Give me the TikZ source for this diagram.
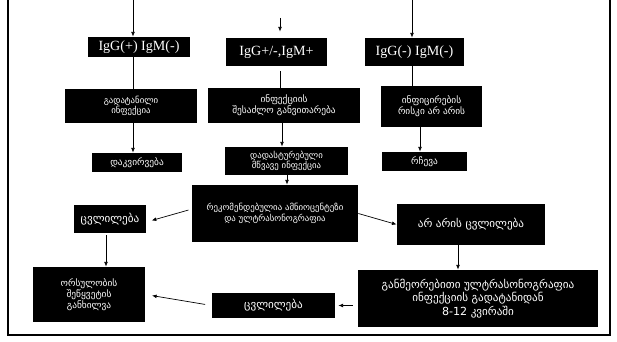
\documentclass[tikz,border=0pt]{standalone}
\usepackage{fontspec}
\setmainfont{Liberation Serif}
\newfontfamily\geo{DejaVu Sans}
\usetikzlibrary{arrows.meta}
\tikzset{
  blk/.style={fill=black, text=white, align=center, inner sep=0pt},
  igbox/.style={blk, font=\fontsize{12}{14}\selectfont},
  geos/.style={blk, font=\geo\fontsize{7.5}{9}\selectfont},
  geom/.style={blk, font=\geo\fontsize{8}{9.5}\selectfont},
  geob/.style={blk, font=\geo\fontsize{9.5}{11.5}\selectfont},
  arr/.style={-{Latex[length=4pt,width=3.2pt]}},
}
\begin{document}
\begin{tikzpicture}[x=0.03cm, y=-0.03cm, line width=0.6pt]
  \useasboundingbox (0,0) rectangle (617,342);
  \draw[line width=1.2pt] (8,0) -- (8,335) -- (610,335) -- (610,0);

  \coordinate (topA) at (133,0);
  \coordinate (topB) at (280,18);
  \coordinate (topC) at (412,0);

  \node[igbox, minimum width=3.06cm, minimum height=0.6cm] (igA) at (139,47) {IgG(+) IgM(-)};
  \node[igbox, minimum width=3.03cm, minimum height=0.84cm] (igB) at (276.5,52) {IgG+/-,IgM+};
  \node[igbox, minimum width=2.97cm, minimum height=0.84cm] (igC) at (414.5,52) {IgG(-) IgM(-)};

  \node[geos, minimum width=3.96cm, minimum height=1.02cm] (pastA) at (131,106) {გადატანილი\\ინფექცია};
  \node[geom, minimum width=4.56cm, minimum height=1.05cm] (devB) at (284,105.5) {ინფექციის\\შესაძლო განვითარება};
  \node[geom, minimum width=3.03cm, minimum height=1.23cm] (riskC) at (431.5,106.5) {ინფიცირების\\რისკი არ არის};

  \node[geom, minimum width=2.7cm, minimum height=0.57cm] (watchA) at (137,162.5) {დაკვირვება};
  \node[geos, minimum width=3.69cm, minimum height=0.84cm] (acuteB) at (286.5,161) {დადასტურებული\\მწვავე ინფექცია};
  \node[geom, minimum width=2.55cm, minimum height=0.57cm] (adviceC) at (424.5,161.5) {რჩევა};

  \node[geos, minimum width=4.98cm, minimum height=1.71cm] (examB) at (275,213.5) {რეკომენდებულია ამნიოცენტეზი\\და ულტრასონოგრაფია};
  \node[geob, minimum width=2.13cm, minimum height=0.84cm] (chgL) at (110,219) {ცვლილება};
  \node[geob, minimum width=4.44cm, minimum height=1.23cm] (nochgR) at (471,224.5) {არ არის ცვლილება};

  \node[geom, minimum width=3.36cm, minimum height=1.65cm] (termL) at (89,294.5) {ორსულობის\\შეწყვეტის\\განხილვა};
  \node[geob, minimum width=3.69cm, minimum height=0.75cm] (chgM) at (273.5,305.5) {ცვლილება};
  \node[geob, minimum width=7.2cm, minimum height=1.71cm] (usR) at (478,298.5) {განმეორებითი ულტრასონოგრაფია\\ინფექციის გადატანიდან\\8-12 კვირაში};

  \draw[arr] (topA) -- (topA |- igA.north);
  \draw[arr, shorten >=0.18cm] (topB) -- (topB |- igB.north);
  \draw[arr] (topC) -- (topC |- igC.north);

  \draw (topA |- igA.south) -- (topA |- pastA.north);
  \draw[shorten <=0.15cm] (topB |- igB.south) -- (topB |- devB.north);
  \draw (topC |- igC.south) -- (topC |- riskC.north);

  \draw[arr] (topA |- pastA.south) -- (topA |- watchA.north);
  \draw[arr] (282,0 |- devB.south) -- (282,0 |- acuteB.north);
  \draw[arr] (420,0 |- riskC.south) -- (420,0 |- adviceC.north);
  \draw[arr] (287,0 |- acuteB.south) -- (287,0 |- examB.north);

  \draw[arr, shorten <=0.1cm, shorten >=0.18cm] (examB.177) -- (chgL.-5);
  \draw[arr] (examB.east) -- (nochgR.west);
  \draw[arr, shorten <=0.05cm] (106,0 |- chgL.south) -- (106,0 |- termL.north);
  \draw[arr] (458,0 |- nochgR.south) -- (458,0 |- usR.north);
  \draw[arr, shorten <=0.15cm, shorten >=0.09cm] (usR.west |- chgM.east) -- (chgM.east);
  \draw[arr, shorten <=0.2cm, shorten >=0.2cm] (chgM.west) -- (termL.east);
\end{tikzpicture}
\end{document}
